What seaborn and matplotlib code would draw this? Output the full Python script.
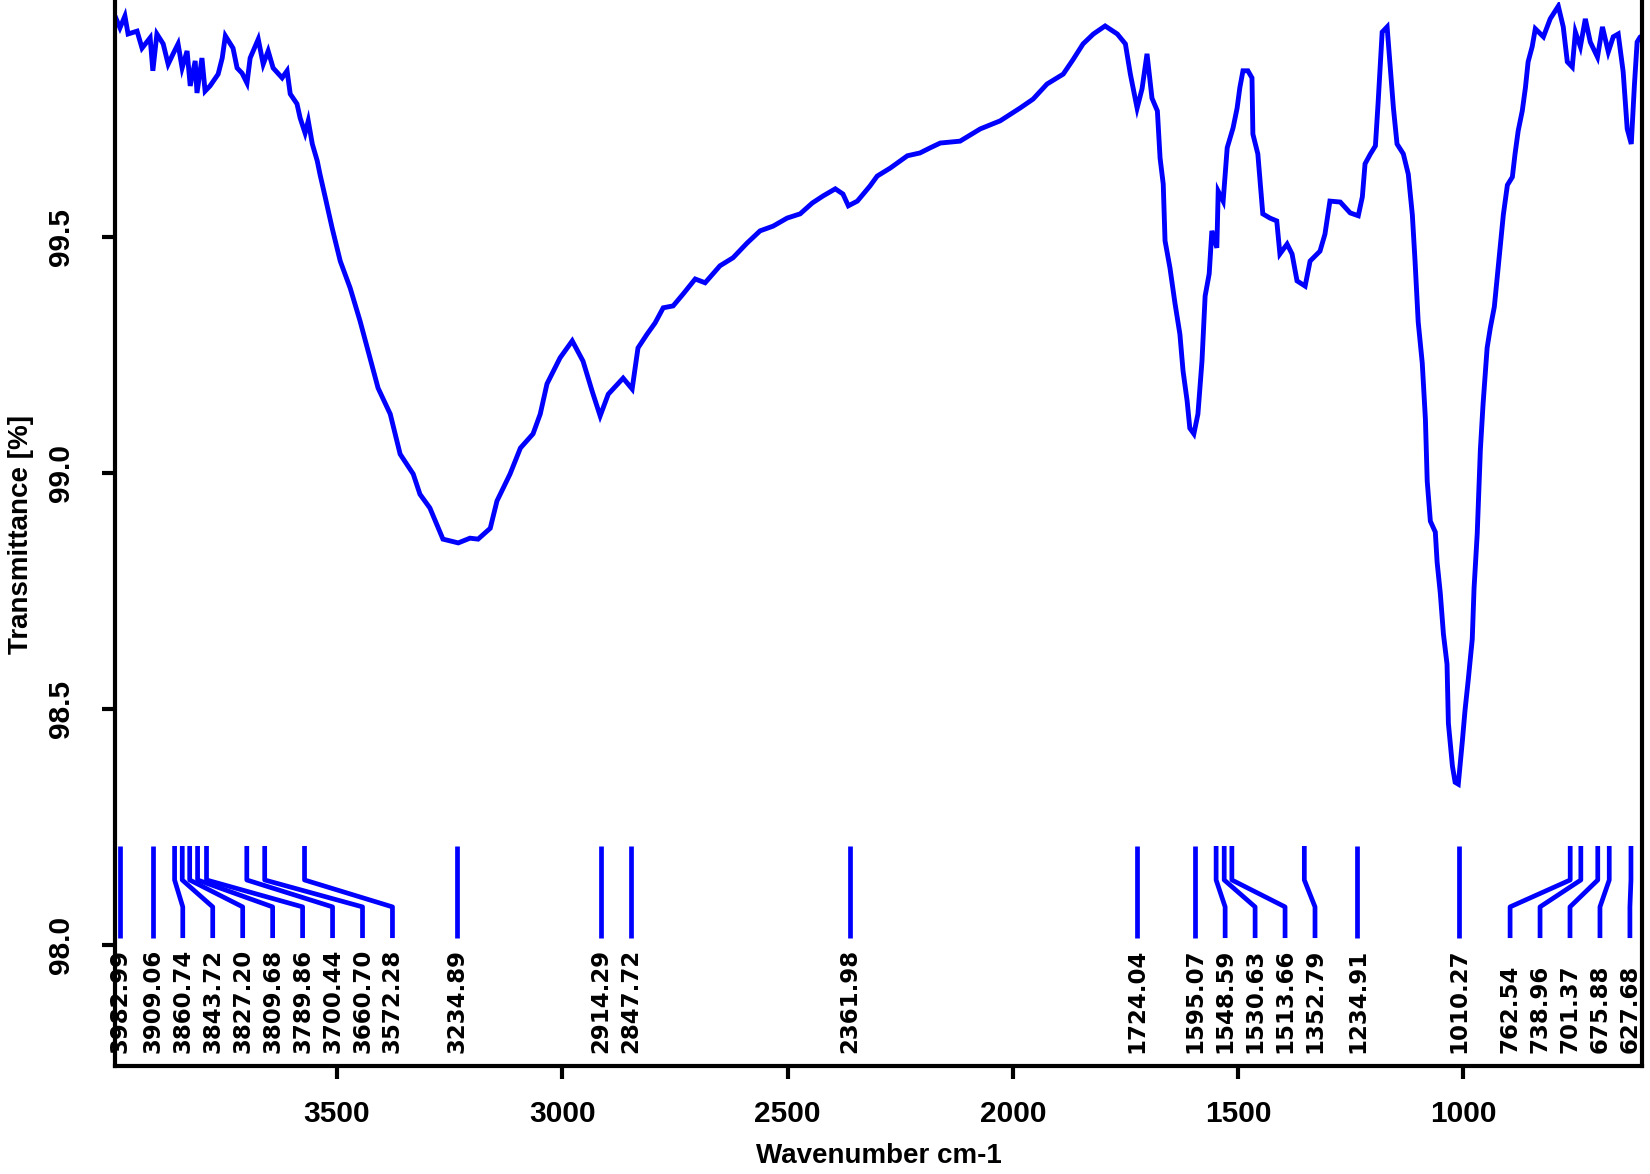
import numpy as np
import pandas as pd
import matplotlib
matplotlib.use("Agg")
import matplotlib.pyplot as plt
import seaborn as sns
from matplotlib import font_manager

# ---------------- data ----------------
wavenumber = [
    3993, 3982, 3971, 3964, 3944, 3933, 3915, 3909, 3900, 3886, 3875, 3864, 3853, 3844,
    3833, 3826, 3815, 3811, 3800, 3793, 3782, 3764, 3755, 3748, 3731, 3722, 3711, 3700,
    3693, 3675, 3664, 3653, 3642, 3622, 3611, 3604, 3589, 3582, 3571, 3564, 3555, 3544,
    3538, 3527, 3511, 3493, 3471, 3449, 3431, 3409, 3382, 3360, 3331, 3316, 3294, 3265,
    3231, 3205, 3187, 3160, 3145, 3116, 3093, 3065, 3049, 3034, 3005, 2978, 2954, 2934,
    2916, 2898, 2865, 2845, 2832, 2812, 2794, 2776, 2754, 2732, 2705, 2683, 2650, 2621,
    2590, 2561, 2532, 2501, 2472, 2445, 2421, 2394, 2377, 2365, 2345, 2317, 2301, 2272,
    2234, 2206, 2183, 2161, 2117, 2072, 2028, 1984, 1955, 1924, 1888, 1866, 1844, 1821,
    1795, 1768, 1750, 1739, 1724, 1713, 1702, 1691, 1679, 1673, 1666, 1662, 1651, 1640,
    1629, 1622, 1613, 1607, 1598, 1589, 1580, 1573, 1564, 1558, 1547, 1544, 1533, 1524,
    1511, 1502, 1496, 1489, 1478, 1469, 1467, 1456, 1451, 1445, 1429, 1414, 1407, 1391,
    1380, 1369, 1351, 1340, 1318, 1307, 1296, 1273, 1251, 1233, 1224, 1218, 1206, 1195,
    1189, 1180, 1169, 1162, 1155, 1147, 1133, 1122, 1113, 1107, 1100, 1091, 1084, 1080,
    1073, 1062, 1058, 1051, 1044, 1036, 1033, 1024, 1018, 1011, 1002, 996, 989, 980,
    976, 969, 962, 956, 947, 940, 931, 925, 918, 911, 902, 891, 885, 878, 869, 862, 856,
    847, 840, 822, 807, 789, 778, 769, 758, 751, 740, 729, 718, 702, 691, 678, 667, 656,
    645, 636, 627, 620, 614, 607,
]
transmittance = [
    99.968, 99.943, 99.968, 99.930, 99.936, 99.900, 99.922, 99.852, 99.930, 99.909, 99.866,
    99.888, 99.909, 99.858, 99.894, 99.820, 99.873, 99.805, 99.879, 99.809, 99.820, 99.845,
    99.879, 99.926, 99.900, 99.858, 99.847, 99.826, 99.879, 99.919, 99.866, 99.894, 99.858,
    99.837, 99.852, 99.803, 99.782, 99.752, 99.720, 99.746, 99.697, 99.661, 99.633, 99.587,
    99.519, 99.449, 99.392, 99.322, 99.258, 99.180, 99.125, 99.040, 98.998, 98.955, 98.926,
    98.860, 98.852, 98.862, 98.860, 98.883, 98.941, 98.998, 99.053, 99.083, 99.125, 99.189,
    99.244, 99.280, 99.237, 99.174, 99.121, 99.167, 99.201, 99.178, 99.265, 99.294, 99.318,
    99.350, 99.354, 99.379, 99.411, 99.403, 99.439, 99.456, 99.487, 99.513, 99.523, 99.540,
    99.549, 99.572, 99.587, 99.602, 99.591, 99.566, 99.576, 99.608, 99.629, 99.646, 99.672,
    99.678, 99.689, 99.699, 99.703, 99.729, 99.746, 99.773, 99.792, 99.824, 99.845, 99.876,
    99.909, 99.930, 99.947, 99.930, 99.909, 99.845, 99.773, 99.814, 99.888, 99.794, 99.767,
    99.667, 99.612, 99.492, 99.434, 99.360, 99.294, 99.216, 99.153, 99.095, 99.083, 99.125,
    99.237, 99.375, 99.422, 99.513, 99.477, 99.597, 99.576, 99.689, 99.731, 99.773, 99.816,
    99.852, 99.852, 99.837, 99.718, 99.676, 99.619, 99.549, 99.540, 99.534, 99.464, 99.485,
    99.464, 99.407, 99.396, 99.449, 99.470, 99.506, 99.576, 99.574, 99.551, 99.545, 99.585,
    99.655, 99.676, 99.693, 99.784, 99.934, 99.945, 99.860, 99.773, 99.697, 99.676, 99.633,
    99.547, 99.449, 99.320, 99.233, 99.114, 98.983, 98.898, 98.875, 98.811, 98.746, 98.659,
    98.595, 98.470, 98.379, 98.345, 98.341, 98.432, 98.498, 98.561, 98.648, 98.756, 98.871,
    99.049, 99.146, 99.265, 99.307, 99.352, 99.411, 99.481, 99.547, 99.610, 99.627, 99.676,
    99.725, 99.767, 99.816, 99.871, 99.903, 99.941, 99.924, 99.962, 99.989, 99.945, 99.871,
    99.860, 99.934, 99.903, 99.962, 99.913, 99.881, 99.945, 99.892, 99.924, 99.930, 99.850,
    99.729, 99.697, 99.822, 99.913, 99.924,
]
peaks = [3982.99, 3909.06, 3860.74, 3843.72, 3827.20, 3809.68, 3789.86, 3700.44,
         3660.70, 3572.28, 3234.89, 2914.29, 2847.72, 2361.98, 1724.04, 1595.07,
         1548.59, 1530.63, 1513.66, 1352.79, 1234.91, 1010.27, 762.54, 738.96,
         701.37, 675.88, 627.68]
x_ticks = [3500, 3000, 2500, 2000, 1500, 1000]
y_ticks = [98.0, 98.5, 99.0, 99.5]
x_label = "Wavenumber cm-1"
y_label = "Transmittance [%]"

# ---------------- style ----------------
sns.set_theme(style="ticks")
names = {f.name for f in font_manager.fontManager.ttflist}
if "Liberation Sans Narrow" in names:
    tick_family, tick_size, lab_size = "Liberation Sans Narrow", 23.5, 24
else:
    tick_family, tick_size, lab_size = "Liberation Sans", 21.5, 20
plt.rcParams["font.family"] = [tick_family, "DejaVu Sans"]

blue = "#0000FF"
fig = plt.figure(figsize=(16.5, 11.74), dpi=100)
ax = fig.add_axes([0.0697, 0.0920, 0.9255, 0.9060])

df = pd.DataFrame({"wn": wavenumber, "T": transmittance})
sns.lineplot(data=df, x="wn", y="T", ax=ax, color=blue, linewidth=3.5,
             sort=False, estimator=None, solid_joinstyle="miter")

# peak marker lines with spread labels
gap = 66.5
lower_bound = 630.0
pos = []
for p in peaks:
    pos.append(p if not pos else min(p, pos[-1] - gap))
pos[-1] = max(pos[-1], lower_bound)
for i in range(len(pos) - 2, -1, -1):
    pos[i] = max(pos[i], pos[i + 1] + gap)

y_top, y_b1, y_b2, y_bot, y_txt = 98.210, 98.138, 98.081, 98.015, 97.771
for p, q in zip(peaks, pos):
    ax.plot([p, p, q, q], [y_top, y_b1, y_b2, y_bot], color=blue, linewidth=3.4,
            solid_capstyle="butt")
    ax.text(q, y_txt, f"{p:.2f}", rotation=90, ha="center", va="bottom",
            fontsize=16.5, fontweight="bold", family="DejaVu Sans", color="black")

ax.set_xlim(3993, 603)
ax.set_ylim(97.744, 99.997)
ax.set_xticks(x_ticks)
ax.set_yticks(y_ticks)
ax.set_xticklabels([str(t) for t in x_ticks], fontsize=tick_size, fontweight="bold",
                   family=tick_family, color="black")
ax.set_yticklabels([f"{t:.1f}" for t in y_ticks], fontsize=tick_size, fontweight="bold",
                   family=tick_family, rotation=90, va="center", color="black")
ax.tick_params(axis="both", direction="out", length=9.5, width=3, colors="black")
ax.tick_params(axis="x", pad=15)
ax.tick_params(axis="y", pad=19)

for side in ["left", "bottom", "right"]:
    ax.spines[side].set_linewidth(3)
    ax.spines[side].set_color("black")
ax.spines["top"].set_visible(False)

ax.set_xlabel(x_label, fontsize=lab_size, fontweight="bold", family=tick_family,
              color="black")
ax.set_ylabel(y_label, fontsize=lab_size, fontweight="bold", family=tick_family,
              color="black")
ax.xaxis.set_label_coords(0.5, -0.072)
ax.yaxis.set_label_coords(-0.053, 0.5)

fig.savefig("out.png", dpi=100, facecolor="white")
